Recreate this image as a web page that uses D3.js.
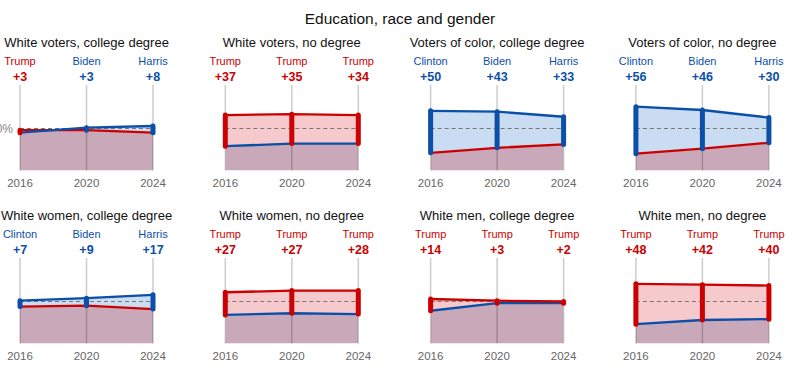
<!DOCTYPE html>
<html>
<head>
<meta charset="utf-8">
<script src="https://cdn.jsdelivr.net/npm/d3@7"></script>
<style>
  body { margin: 0; background: #fff; }
  svg { font-family: "Liberation Sans", Arial, sans-serif; }
</style>
</head>
<body>
<svg id="chart" width="800" height="377"></svg>
<script>
// data
var years = [2016, 2020, 2024];
var demNames = ["Clinton", "Biden", "Harris"];
var groups = [
  "White voters, college degree",
  "White voters, no degree",
  "Voters of color, college degree",
  "Voters of color, no degree",
  "White women, college degree",
  "White women, no degree",
  "White men, college degree",
  "White men, no degree"
];
var repShare = [
  [48, 48, 45],
  [66, 67, 66],
  [21, 27, 31],
  [20, 26, 33],
  [44, 45, 41],
  [61, 63, 63],
  [53, 51, 50],
  [71, 70, 69]
];
var demShare = [
  [45, 51, 53],
  [29, 32, 32],
  [71, 70, 64],
  [76, 72, 63],
  [51, 54, 58],
  [34, 36, 35],
  [39, 48, 48],
  [23, 28, 29]
];

var RED = "#cc0000", BLUE = "#0b4fa8";
var svg = d3.select("#chart");

svg.append("text")
  .attr("x", 400).attr("y", 24)
  .attr("text-anchor", "middle")
  .attr("font-size", 15.5)
  .attr("fill", "#111")
  .text("Education, race and gender");

var x = d3.scaleLinear().domain([2016, 2024]).range([0, 133]);
var y = d3.scaleLinear().domain([0, 100]).range([170.5, 86.5]);
var defs = svg.append("defs");

groups.forEach(function(name, i) {
  var col = i % 4, row = Math.floor(i / 4);
  var g = svg.append("g")
    .attr("transform", "translate(" + (20 + col * 205.3) + "," + (row * 173) + ")");
  var rep = repShare[i], dem = demShare[i];
  var pts = years.map(function(yr, j) { return {year: yr, r: rep[j], d: dem[j]}; });

  var areaR = d3.area().x(function(p) { return x(p.year); }).y0(y(0)).y1(function(p) { return y(p.r); });
  var areaD = d3.area().x(function(p) { return x(p.year); }).y0(y(0)).y1(function(p) { return y(p.d); });
  var aboveR = d3.area().x(function(p) { return x(p.year); }).y0(y(100)).y1(function(p) { return y(p.r); });
  var aboveD = d3.area().x(function(p) { return x(p.year); }).y0(y(100)).y1(function(p) { return y(p.d); });

  defs.append("clipPath").attr("id", "belowD" + i).append("path").attr("d", areaD(pts));
  defs.append("clipPath").attr("id", "aboveD" + i).append("path").attr("d", aboveD(pts));
  defs.append("clipPath").attr("id", "aboveR" + i).append("path").attr("d", aboveR(pts));

  // title
  g.append("text")
    .attr("x", x(2020)).attr("y", 47)
    .attr("text-anchor", "middle")
    .attr("font-size", 13)
    .attr("fill", "#111")
    .text(name);

  // fills
  g.append("path").attr("d", areaR(pts)).attr("fill", "#f6cacc")
    .attr("clip-path", "url(#aboveD" + i + ")");
  g.append("path").attr("d", areaD(pts)).attr("fill", "#c9dcf1")
    .attr("clip-path", "url(#aboveR" + i + ")");
  g.append("path").attr("d", areaR(pts)).attr("fill", "#c9a9b9")
    .attr("clip-path", "url(#belowD" + i + ")");

  // gridlines
  g.selectAll(".grid").data(years).enter().append("line")
    .attr("x1", function(d) { return x(d); }).attr("x2", function(d) { return x(d); })
    .attr("y1", 85).attr("y2", y(0))
    .attr("stroke", "rgba(0,0,0,0.2)").attr("stroke-width", 1.5);

  // 50% line
  g.append("line")
    .attr("x1", x(2016)).attr("x2", x(2024))
    .attr("y1", y(50)).attr("y2", y(50))
    .attr("stroke", "#777").attr("stroke-width", 1.1)
    .attr("stroke-dasharray", "4,3");

  if (i === 0) {
    g.append("text")
      .attr("x", -7).attr("y", y(50) + 4)
      .attr("text-anchor", "end")
      .attr("font-size", 12)
      .attr("fill", "#888")
      .text("50%");
  }

  // share lines
  var lineR = d3.line().x(function(p) { return x(p.year); }).y(function(p) { return y(p.r); });
  var lineD = d3.line().x(function(p) { return x(p.year); }).y(function(p) { return y(p.d); });
  var demWinsMost = d3.sum(pts, function(p) { return p.d - p.r; }) > 0;
  var order = demWinsMost ? [[lineR, RED], [lineD, BLUE]] : [[lineD, BLUE], [lineR, RED]];
  order.forEach(function(o) {
    g.append("path").attr("d", o[0](pts)).attr("fill", "none")
      .attr("stroke", o[1]).attr("stroke-width", 2.3);
  });

  // margin bars
  g.selectAll(".bar").data(pts).enter().append("line")
    .attr("x1", function(p) { return x(p.year); }).attr("x2", function(p) { return x(p.year); })
    .attr("y1", function(p) { return y(Math.min(p.r, p.d)); })
    .attr("y2", function(p) { return y(Math.max(p.r, p.d)); })
    .attr("stroke", function(p) { return p.r > p.d ? RED : BLUE; })
    .attr("stroke-width", 5)
    .attr("stroke-linecap", "round");

  // labels
  g.selectAll(".cand").data(pts).enter().append("text")
    .attr("x", function(p) { return x(p.year); }).attr("y", 65)
    .attr("text-anchor", "middle")
    .attr("font-size", 11)
    .attr("fill", function(p) { return p.r > p.d ? RED : BLUE; })
    .text(function(p, j) { return p.r > p.d ? "Trump" : demNames[j]; });
  g.selectAll(".margin").data(pts).enter().append("text")
    .attr("x", function(p) { return x(p.year); }).attr("y", 81)
    .attr("text-anchor", "middle")
    .attr("font-size", 12.5)
    .attr("font-weight", "bold")
    .attr("fill", function(p) { return p.r > p.d ? RED : BLUE; })
    .text(function(p) { return "+" + Math.abs(p.r - p.d); });

  // year axis
  g.selectAll(".yr").data(years).enter().append("text")
    .attr("x", function(d) { return x(d); }).attr("y", 187)
    .attr("text-anchor", "middle")
    .attr("font-size", 11.5)
    .attr("fill", "#666")
    .text(function(d) { return d; });
});
</script>
</body>
</html>
